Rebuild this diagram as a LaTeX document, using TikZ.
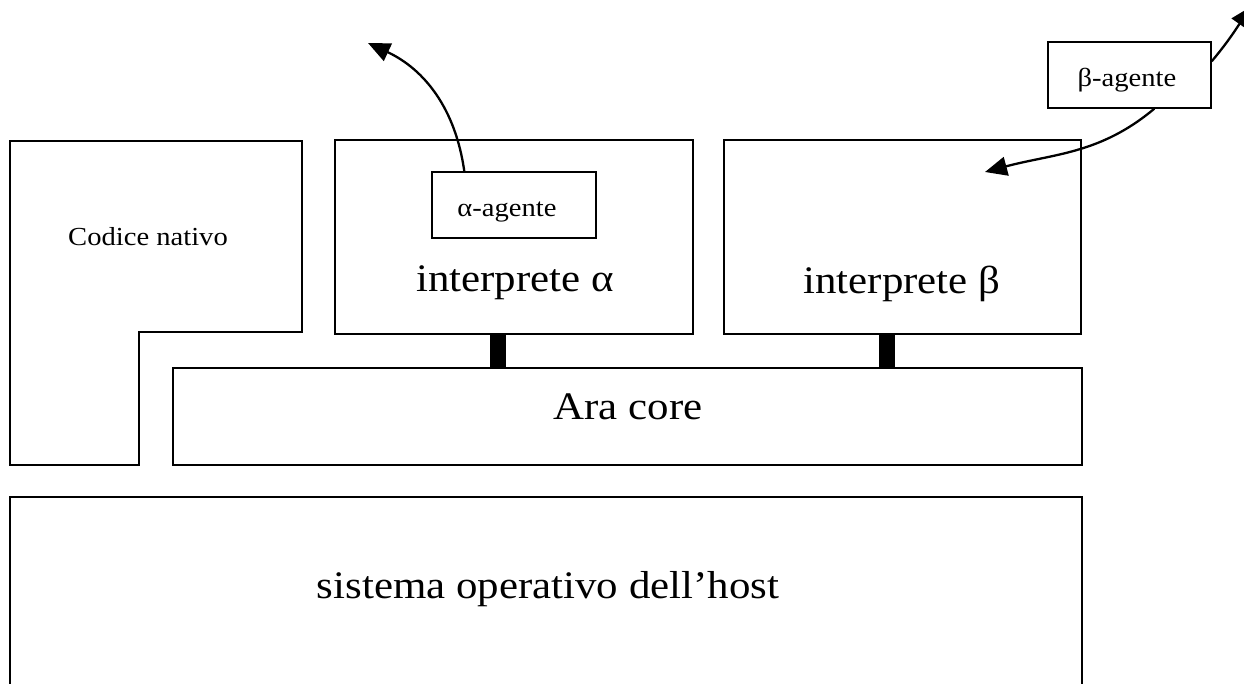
\documentclass[tikz,border=0pt]{standalone}
\usepackage{fontspec}
\setmainfont{Liberation Serif}[FakeStretch=1.1]
\usetikzlibrary{arrows.meta,calc}

\tikzset{
  box/.style={draw, line width=1.4pt, inner sep=0pt},
  busline/.style={line width=16pt},
  bigtext/.style={font=\fontsize{39}{42}\selectfont, inner sep=0pt, anchor=base},
  smalltext/.style={font=\fontsize{26}{28}\selectfont, inner sep=0pt, anchor=base},
  move/.style={line width=2.3pt, -{Triangle[length=22pt,width=19pt]}},
}

\begin{document}
\begin{tikzpicture}[x=1pt,y=1pt]
  \useasboundingbox (0,0) rectangle (1244,-684);

  % native code region (L-shaped)
  \draw[line width=1.4pt] (10,-141) -- (302,-141) -- (302,-332) -- (139,-332)
        -- (139,-465) -- (10,-465) -- cycle;
  \node[smalltext] (cn) at (148,-246) {Codice nativo};

  % interpreters
  \node[box, minimum width=358pt, minimum height=194pt] (ia) at (514,-237) {};
  \node[box, minimum width=357pt, minimum height=194pt] (ib) at (902.5,-237) {};
  \node[bigtext] (tia) at (515,-292) {interprete α};
  \node[bigtext] (tib) at (902,-294) {interprete β};

  % agents
  \node[box, minimum width=164pt, minimum height=66pt] (aa) at (514,-205) {};
  \node[smalltext] (taa) at (507,-217) {α-agente};
  \node[box, minimum width=163pt, minimum height=66pt] (ba) at (1129.5,-75) {};
  \node[smalltext] (tba) at (1127,-87) {β-agente};

  % core and host system
  \node[box, minimum width=909pt, minimum height=97pt] (core) at (627.5,-416.5) {};
  \node[bigtext] (tcore) at (628,-419) {Ara core};
  \node[box, minimum width=1072pt, minimum height=223pt] (os) at (546,-608.5) {};
  \node[bigtext] (tos) at (548,-598) {sistema operativo dell’host};

  % links between interpreters and core
  \draw[busline] ($(ia.south)+(-16,0)$) -- ($(core.north -| ia.south)+(-16,0)$);
  \draw[busline] ($(ib.south)+(-16,0)$) -- ($(core.north -| ib.south)+(-16,0)$);

  % agent migrations
  \coordinate (aout) at (368,-43);
  \coordinate (bin) at (985,-172);
  \coordinate (bout) at (1252,-6);
  \draw[move] ($(aa.north west)+(33,0)$) to[out=98, in=-25] (aout);
  \draw[move] ($(ba.south west)+(107,0)$) to[out=-140, in=15] (bin);
  \draw[move] ($(ba.north east)+(0,-20)$) to[out=50, in=-125] (bout);
\end{tikzpicture}
\end{document}
